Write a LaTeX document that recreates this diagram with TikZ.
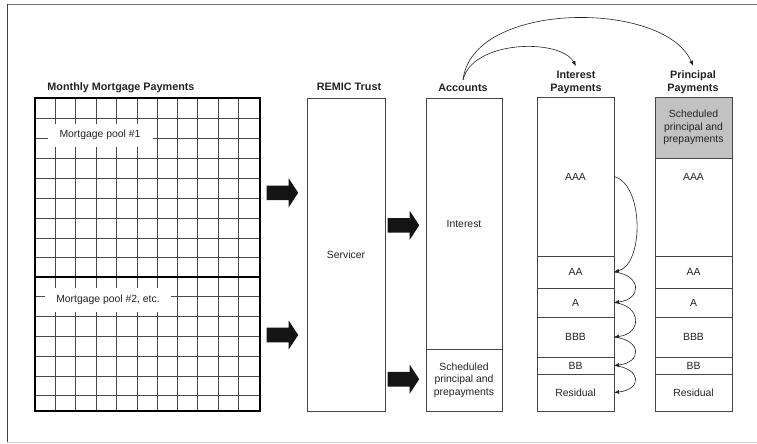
\documentclass[tikz,border=0pt]{standalone}
\usepackage{fontspec}
\setmainfont{Liberation Sans}
\usetikzlibrary{arrows.meta}
\definecolor{ink}{HTML}{222222}
\definecolor{boxc}{HTML}{454545}
\definecolor{gridc}{HTML}{474747}
\definecolor{shade}{HTML}{C2C2C2}
\begin{document}
\begin{tikzpicture}[x=1pt,y=-1pt,
  lbl/.style={font=\fontsize{10.4}{12.4}\selectfont, text=ink, align=center, inner sep=1pt},
  head/.style={font=\bfseries\fontsize{10.8}{13}\selectfont, text=ink, align=center, inner sep=1pt},
  cell/.style={draw=boxc, line width=0.9pt, inner sep=0pt, outer sep=0pt, anchor=north west, lbl},
  gridline/.style={draw=gridc, line width=1.1pt},
  gridbold/.style={draw=black, line width=2pt},
  flow/.style={draw=ink, line width=0.6pt, -{Latex[length=5pt,width=4pt]}},
  blockarrow/.pic={\fill[black!92] (0,-7.3) -- (22,-7.3) -- (22,-14.5) -- (31.5,0) -- (22,14.5) -- (22,7.3) -- (0,7.3) -- cycle;}
]
\useasboundingbox (0,0) rectangle (757,444);

% page frame
\draw[draw=black!55, line width=0.9pt] (7,4.5) -- (757,4.5);
\draw[draw=black!75, line width=1.3pt] (7.5,4) -- (7.5,442);
\draw[draw=black!18, line width=0.9pt] (7,442) -- (757,442);

% headings
\node[head] (mhead) at (121,88) {Monthly Mortgage Payments};
\node[head] (rhead) at (349,87) {REMIC Trust};
\node[head] (ahead) at (463,88) {Accounts};
\node[head] (ihead) at (576,82.5) {Interest\\Payments};
\node[head] (phead) at (693,82.5) {Principal\\Payments};

% mortgage pool grid
\foreach \x in {55.5,75.5,96.5,116.5,137.5,157.5,177.5,197.5,218.5,238.5}
  \draw[gridline] (\x,98) -- (\x,410.7);
\foreach \y in {118.5,138.5,158.5,178.5,198.5,218.5,238.5,257.5,296.5,316.5,336.5,356.5,376.5,395.5}
  \draw[gridline] (34.7,\y) -- (260,\y);
\draw[gridbold] (34.7,277) -- (260,277);
\draw[gridbold] (34.7,98) rectangle (260,410.7);
\node[lbl, fill=white, minimum width=105pt, minimum height=23pt] (pool1) at (100,135) {Mortgage pool \#1};
\node[lbl, fill=white, minimum width=126pt, minimum height=24pt] (pool2) at (108,300) {Mortgage pool \#2, etc.};

% block arrows
\pic at (266.7,192.8) {blockarrow};
\pic at (266.7,335) {blockarrow};
\pic at (387.7,225.3) {blockarrow};
\pic at (387.7,379.2) {blockarrow};

% REMIC trust
\node[cell, minimum width=78pt, minimum height=313pt] (serv) at (307,98) {Servicer};

% accounts
\node[cell, minimum width=76pt, minimum height=251pt] (accint) at (426,98) {Interest};
\node[cell, minimum width=76pt, minimum height=62pt] (accprin) at (426,349) {Scheduled\\principal and\\prepayments};

% interest payments tranches
\node[cell, minimum width=77pt, minimum height=159pt] (iAAA) at (537,97) {AAA};
\node[cell, minimum width=77pt, minimum height=32pt] (iAA) at (537,256) {AA};
\node[cell, minimum width=77pt, minimum height=29pt] (iA) at (537,288) {A};
\node[cell, minimum width=77pt, minimum height=40pt] (iBBB) at (537,317) {BBB};
\node[cell, minimum width=77pt, minimum height=17pt] (iBB) at (537,357) {BB};
\node[cell, minimum width=77pt, minimum height=37pt] (iRes) at (537,374) {Residual};

% principal payments tranches
\node[cell, fill=shade, minimum width=77pt, minimum height=61pt] (pSched) at (655,97) {Scheduled\\principal and\\prepayments};
\node[cell, minimum width=77pt, minimum height=98pt] (pAAA) at (655,158) {};
\node[lbl] (pAAAtext) at (693.5,177) {AAA};
\node[cell, minimum width=77pt, minimum height=32pt] (pAA) at (655,256) {AA};
\node[cell, minimum width=77pt, minimum height=29pt] (pA) at (655,288) {A};
\node[cell, minimum width=77pt, minimum height=40pt] (pBBB) at (655,317) {BBB};
\node[cell, minimum width=77pt, minimum height=17pt] (pBB) at (655,357) {BB};
\node[cell, minimum width=77pt, minimum height=37pt] (pRes) at (655,374) {Residual};

% flows from accounts to the two payment columns
\coordinate (asrc) at ([yshift=3pt]ahead.north);
\coordinate (itgt) at ([yshift=4pt]ihead.north);
\coordinate (ptgt) at ([yshift=4pt]phead.north);
\draw[flow] (asrc) .. controls (472,40) and (560,38) .. (itgt);
\draw[flow] (asrc) .. controls (472,0) and (665,0) .. (ptgt);

% interest waterfall
\draw[flow] (iAAA.east) .. controls +(30,8) and +(30,-8) .. (iAA.east);
\draw[flow] (iAA.east) .. controls +(28,3) and +(28,-3) .. (iA.east);
\draw[flow] (iA.east) .. controls +(28,3) and +(28,-3) .. (iBBB.east);
\draw[flow] (iBBB.east) .. controls +(28,3) and +(28,-3) .. (iBB.east);
\draw[flow] (iBB.east) .. controls +(28,3) and +(28,-3) .. (iRes.east);
\end{tikzpicture}
\end{document}
